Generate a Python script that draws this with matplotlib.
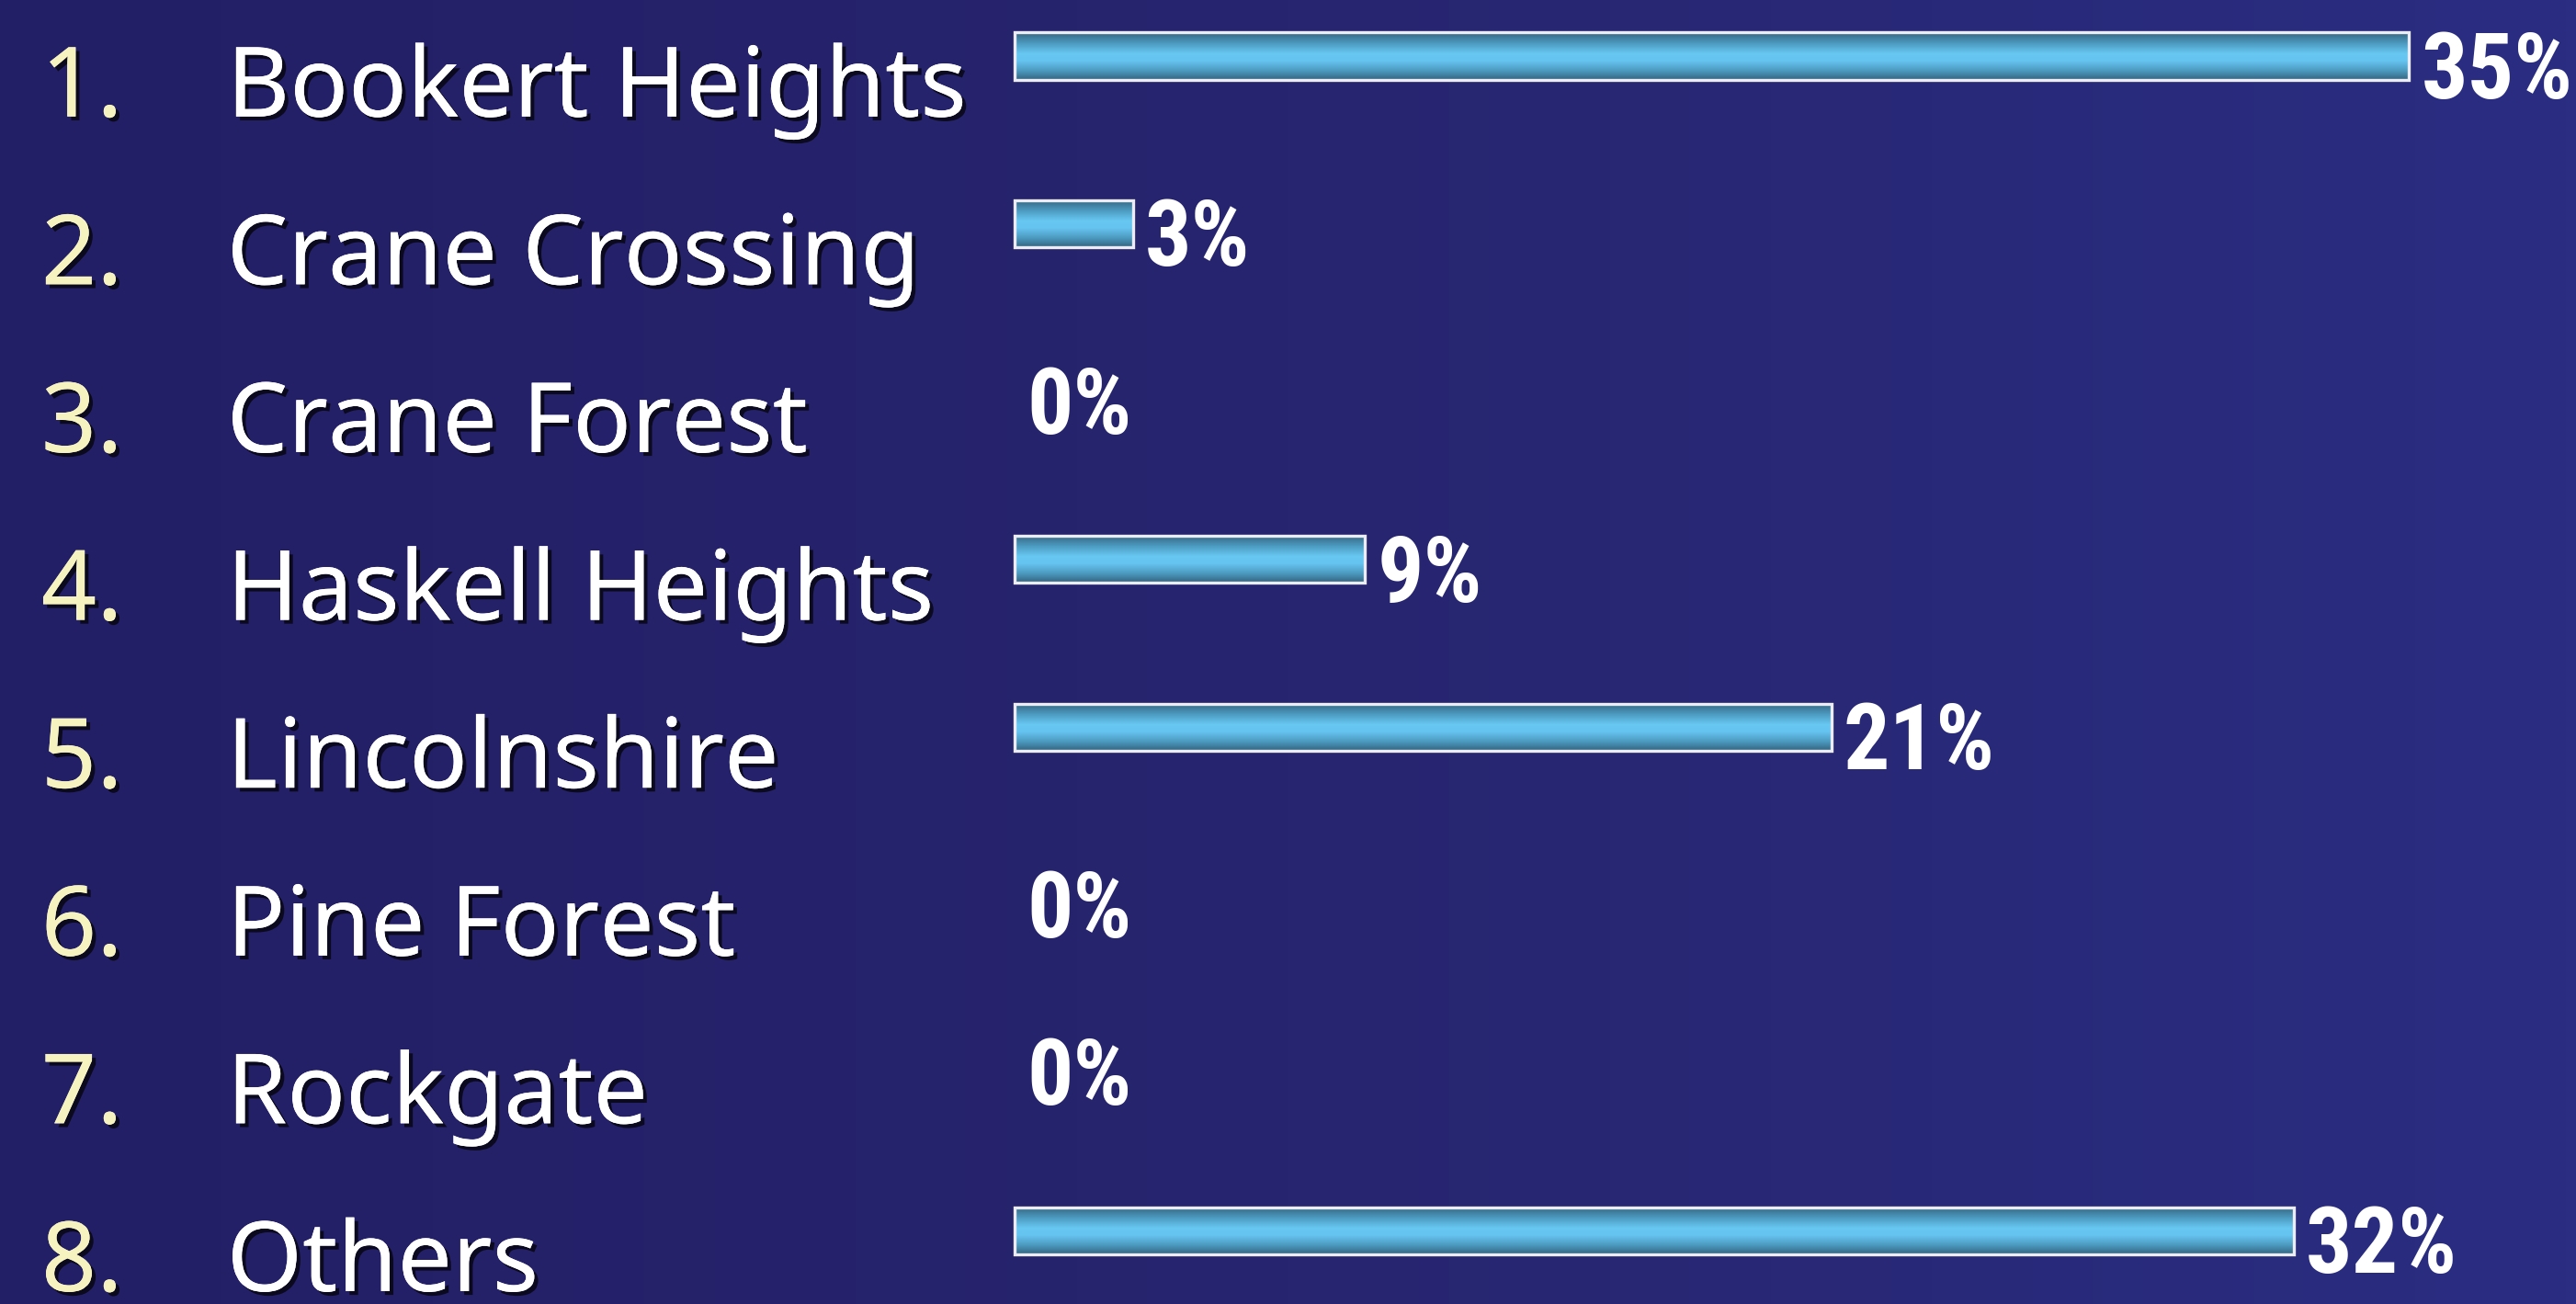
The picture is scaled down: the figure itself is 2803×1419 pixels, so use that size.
import numpy as np
import matplotlib
matplotlib.use("Agg")
import matplotlib.pyplot as plt
import matplotlib.patheffects as pe
from matplotlib.colors import LinearSegmentedColormap
from matplotlib import font_manager as fm

# ------------------------------
# data
# ------------------------------
numbers = ["1.", "2.", "3.", "4.", "5.", "6.", "7.", "8."]
places = ["Bookert Heights", "Crane Crossing", "Crane Forest", "Haskell Heights",
          "Lincolnshire", "Pine Forest", "Rockgate", "Others"]
shares = [35.0, 2.97, 0, 8.8, 20.5, 0, 0, 32.1]
share_labels = ["35%", "3%", "0%", "9%", "21%", "0%", "0%", "32%"]

# pick a narrow bold face for the percentages if one exists
names = {f.name for f in fm.fontManager.ttflist}
narrow = next((n for n in ["Liberation Sans Narrow", "Roboto Condensed", "Open Sans Condensed"]
               if n in names), None)
pct_font = dict(family=narrow, fontsize=72) if narrow else dict(family="Liberation Sans", fontsize=58)

# ------------------------------
# figure / axes
# ------------------------------
W, H = 2803, 1419
fig = plt.figure(figsize=(W / 100, H / 100), dpi=100)
ax = fig.add_axes([0, 0, 1, 1])
ax.set_axis_off()

px_per_pct = 43.35
x0_px = 1104
row_px = 182.6
first_row_px = 61

xlim = (-x0_px / px_per_pct, (W - x0_px) / px_per_pct)
ylim = ((H - first_row_px) / row_px, -first_row_px / row_px)

# background gradient (darker left, lighter right)
bg = LinearSegmentedColormap.from_list("bg", ["#231f66", "#27256f", "#2a2d82"])
grad = np.linspace(0, 1, 256).reshape(1, -1)
ax.imshow(grad, cmap=bg, aspect="auto", extent=(*xlim, *ylim), zorder=0)

# bars
ypos = np.arange(len(places))
bar_h = 0.28
bars = ax.barh(ypos, shares, height=bar_h, facecolor="none",
               edgecolor="#ececf4", linewidth=2.4, zorder=3)

barcmap = LinearSegmentedColormap.from_list(
    "bar", [(0, "#356580"), (0.25, "#4f9fc6"), (0.45, "#68c8f2"),
            (0.6, "#66c4f0"), (0.8, "#4d9cc2"), (1, "#356580")])
vgrad = np.linspace(0, 1, 100).reshape(-1, 1)
for b, val in zip(bars, shares):
    if val <= 0:
        b.set_visible(False)
        continue
    im = ax.imshow(vgrad, cmap=barcmap, aspect="auto",
                   extent=(b.get_x(), b.get_x() + b.get_width(),
                           b.get_y() + b.get_height(), b.get_y()),
                   zorder=2)
    im.set_clip_path(b)

ax.set_xlim(*xlim)
ax.set_ylim(*ylim)

# percent labels
for y, val, lab in zip(ypos, shares, share_labels):
    ax.text(val + 0.3, y - bar_h / 2 - 0.02, lab, ha="left", va="top",
            color="white", fontweight="bold", zorder=4, **pct_font)

# left labels
shadow = [pe.withSimplePatchShadow(offset=(3, -3), shadow_rgbFace="black", alpha=0.7),
          pe.Normal()]
trans = ax.get_yaxis_transform()
for y, num, name in zip(ypos, numbers, places):
    ax.text(0.016, y + 0.36, num, transform=trans, ha="left", va="baseline",
            color="#f6f3c0", fontsize=76, family="Noto Sans",
            path_effects=shadow, zorder=4)
    ax.text(0.088, y + 0.36, name, transform=trans, ha="left", va="baseline",
            color="white", fontsize=76, family="Noto Sans",
            path_effects=shadow, zorder=4)

fig.savefig("out.png", dpi=100)
